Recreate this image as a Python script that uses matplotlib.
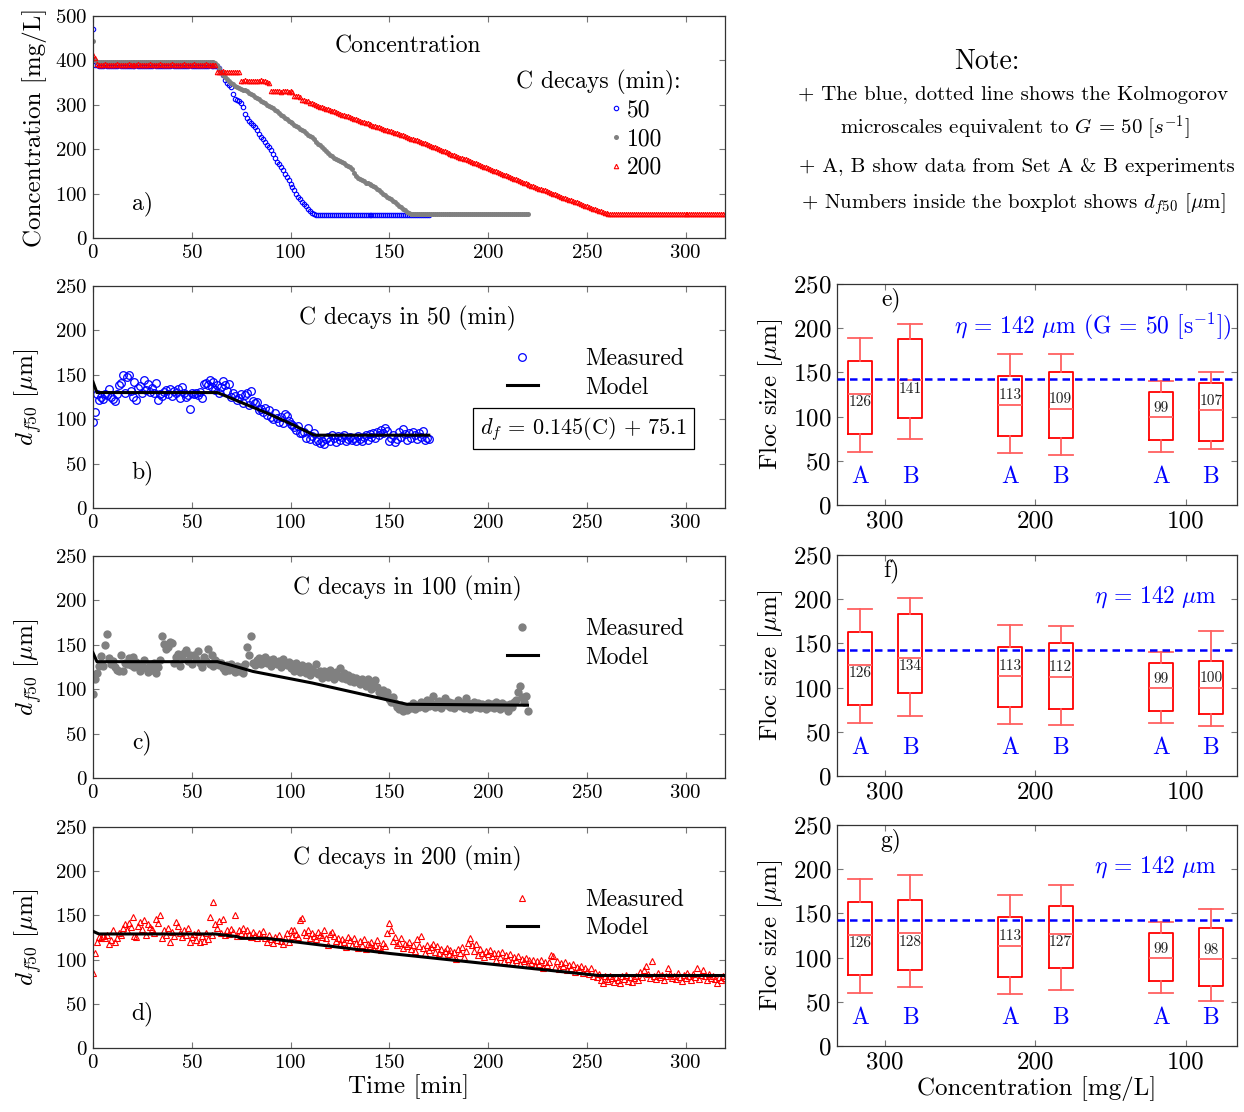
import numpy as np
import matplotlib.pyplot as plt

plt.rcParams['font.family'] = 'serif'
plt.rcParams['font.serif'] = ['cmr10']
plt.rcParams['mathtext.fontset'] = 'cm'
plt.rcParams['axes.formatter.use_mathtext'] = True
plt.rcParams['axes.unicode_minus'] = False

# ---- concentration [mg/L], one reading per minute ----
conc_50 = [
    470, 390, 389, 388, 388, 388, 389, 388, 388, 387,
    388, 388, 388, 389, 388, 388, 388, 387, 388, 388,
    388, 388, 389, 388, 388, 388, 387, 388, 388, 388,
    388, 389, 388, 388, 388, 387, 388, 388, 388, 388,
    389, 388, 388, 388, 388, 387, 388, 388, 388, 389,
    388, 388, 388, 388, 387, 388, 388, 388, 388, 389,
    388, 388, 388, 388, 384, 375, 367, 355, 350, 345,
    340, 325, 312, 310, 308, 305, 295, 280, 270, 263,
    258, 255, 250, 243, 235, 228, 222, 216, 210, 205,
    198, 190, 180, 172, 167, 160, 153, 145, 137, 130,
    122, 115, 108, 100, 93, 88, 82, 76, 72, 66,
    61, 56, 53, 52, 52, 52, 52, 52, 52, 52,
    52, 52, 52, 52, 52, 52, 52, 52, 52, 52,
    52, 52, 52, 52, 52, 52, 52, 52, 52, 52,
    52, 52, 52, 52, 52, 52, 52, 52, 52, 52,
    52, 52, 52, 52, 52, 52, 52, 52, 52, 52,
    52, 52, 52, 52, 52, 52, 52, 52, 52, 52,
    52,
]
conc_100 = [
    443, 400, 397, 396, 396, 396, 397, 396, 396, 396,
    396, 396, 397, 396, 396, 396, 396, 397, 396, 396,
    396, 397, 396, 396, 396, 396, 396, 397, 396, 396,
    396, 396, 397, 396, 396, 396, 396, 396, 397, 396,
    396, 396, 396, 397, 396, 396, 396, 396, 396, 397,
    396, 396, 396, 397, 396, 396, 396, 396, 397, 396,
    396, 396, 395, 390, 383, 375, 368, 363, 358, 353,
    349, 346, 343, 340, 338, 336, 334, 333, 330, 327,
    324, 322, 318, 315, 312, 309, 306, 303, 300, 297,
    295, 292, 289, 285, 282, 278, 275, 271, 268, 264,
    261, 258, 255, 252, 249, 246, 243, 240, 237, 233,
    230, 227, 222, 217, 212, 209, 205, 200, 196, 191,
    187, 184, 181, 178, 176, 173, 171, 168, 165, 162,
    160, 155, 147, 140, 136, 134, 131, 128, 125, 123,
    121, 120, 118, 115, 111, 107, 104, 100, 97, 93,
    90, 87, 84, 80, 77, 73, 70, 66, 63, 59,
    56, 53, 53, 53, 53, 53, 53, 53, 53, 53,
    53, 53, 53, 53, 53, 53, 53, 53, 53, 53,
    53, 53, 53, 53, 53, 53, 53, 53, 53, 53,
    53, 53, 53, 53, 53, 53, 53, 53, 53, 53,
    53, 53, 53, 53, 53, 53, 53, 53, 53, 53,
    53, 53, 53, 53, 53, 53, 53, 53, 53, 53,
    53,
]
conc_200 = [
    413, 405, 391, 390, 390, 390, 391, 390, 390, 390,
    390, 390, 391, 390, 390, 390, 390, 390, 391, 390,
    390, 390, 390, 391, 390, 390, 390, 390, 390, 391,
    390, 390, 390, 390, 391, 390, 390, 390, 390, 390,
    391, 390, 390, 390, 390, 390, 391, 390, 390, 390,
    390, 391, 390, 390, 390, 390, 390, 391, 390, 390,
    390, 390, 390, 375, 375, 375, 376, 375, 375, 375,
    375, 374, 375, 375, 375, 354, 354, 355, 354, 354,
    354, 353, 354, 354, 354, 355, 354, 353, 352, 350,
    330, 330, 331, 330, 330, 329, 330, 330, 330, 329,
    330, 328, 320, 320, 319, 318, 310, 310, 309, 308,
    305, 303, 301, 299, 298, 296, 294, 293, 291, 290,
    288, 286, 285, 283, 282, 280, 278, 277, 275, 274,
    272, 270, 269, 267, 266, 264, 262, 261, 259, 258,
    256, 255, 253, 252, 250, 249, 247, 246, 244, 243,
    242, 240, 239, 237, 236, 234, 232, 231, 229, 228,
    226, 224, 223, 221, 220, 218, 216, 215, 213, 212,
    210, 208, 206, 204, 202, 200, 198, 196, 195, 193,
    191, 189, 188, 186, 185, 183, 181, 180, 178, 177,
    175, 173, 171, 170, 168, 166, 164, 163, 161, 160,
    158, 156, 154, 152, 151, 149, 147, 145, 143, 142,
    140, 138, 136, 134, 132, 130, 128, 127, 125, 124,
    122, 120, 118, 117, 115, 113, 111, 110, 108, 107,
    105, 103, 102, 100, 99, 97, 95, 93, 91, 89,
    87, 86, 85, 83, 82, 80, 78, 76, 74, 73,
    71, 69, 68, 66, 65, 63, 61, 60, 58, 57,
    56, 55, 55, 55, 55, 55, 55, 55, 55, 55,
    55, 55, 55, 55, 55, 55, 55, 55, 55, 55,
    55, 55, 55, 55, 55, 55, 55, 55, 55, 55,
    55, 55, 55, 55, 55, 55, 55, 55, 55, 55,
    55, 55, 55, 55, 55, 55, 55, 55, 55, 55,
    55, 55, 55, 55, 55, 55, 55, 55, 55, 55,
    55,
]

# ---- measured d_f50 [um], one reading per minute ----
df_50 = [
    97, 108, 128, 122, 125, 123, 128, 127, 134, 125,
    123, 121, 128, 138, 141, 150, 130, 148, 150, 132,
    125, 142, 122, 135, 137, 130, 144, 133, 140, 131,
    135, 129, 141, 122, 128, 126, 131, 133, 128, 134,
    126, 132, 130, 134, 124, 136, 129, 125, 127, 112,
    130, 128, 129, 127, 131, 124, 140, 141, 138, 144,
    136, 142, 133, 139, 130, 136, 143, 138, 132, 140,
    125, 130, 126, 122, 124, 128, 118, 127, 130, 116,
    132, 120, 118, 119, 110, 112, 108, 113, 105, 110,
    103, 100, 107, 101, 97, 103, 96, 106, 104, 98,
    95, 93, 91, 88, 92, 84, 85, 86, 79, 90,
    78, 81, 84, 75, 77, 73, 76, 72, 78, 80,
    76, 82, 79, 74, 81, 77, 80, 82, 75, 78,
    80, 77, 79, 76, 81, 78, 75, 80, 82, 77,
    83, 80, 85, 79, 86, 82, 88, 84, 90, 87,
    76, 79, 82, 74, 78, 86, 80, 89, 83, 77,
    84, 79, 86, 82, 78, 85, 80, 87, 77, 79,
    78,
]
df_100 = [
    95, 112, 118, 126, 137, 126, 150, 162, 135, 128,
    132, 125, 122, 120, 138, 121, 130, 128, 135, 127,
    136, 125, 131, 128, 120, 126, 133, 124, 119, 127,
    122, 130, 118, 125, 133, 160, 151, 145, 148, 153,
    152, 130, 136, 140, 126, 137, 141, 144, 132, 138,
    128, 139, 134, 143, 130, 125, 136, 132, 145, 128,
    138, 126, 133, 131, 127, 129, 124, 120, 127, 122,
    128, 123, 119, 126, 121, 125, 118, 128, 148, 138,
    160, 130, 127, 133, 135, 128, 131, 136, 129, 133,
    126, 134, 130, 128, 132, 125, 134, 129, 127, 131,
    124, 128, 121, 130, 125, 119, 127, 122, 118, 126,
    116, 123, 119, 128, 117, 121, 113, 120, 118, 114,
    122, 116, 112, 119, 115, 124, 113, 118, 111, 116,
    109, 114, 108, 113, 110, 106, 111, 108, 104, 112,
    106, 100, 107, 110, 103, 97, 94, 99, 92, 97,
    89, 86, 91, 84, 80, 78, 82, 76, 79, 77,
    81, 79, 84, 78, 82, 80, 86, 83, 79, 88,
    81, 85, 92, 80, 84, 87, 79, 83, 90, 82,
    86, 80, 84, 79, 83, 88, 81, 85, 79, 90,
    84, 78, 82, 86, 80, 84, 79, 83, 81, 78,
    85, 80, 83, 79, 86, 81, 78, 84, 80, 82,
    76, 83, 80, 86, 88, 97, 104, 91, 86, 92,
    76,
]
df_200 = [
    85, 108, 120, 126, 124, 127, 125, 128, 118, 122,
    133, 120, 125, 130, 128, 136, 140, 133, 141, 137,
    148, 127, 126, 138, 143, 135, 145, 128, 140, 137,
    135, 130, 146, 141, 150, 125, 133, 128, 136, 120,
    131, 127, 143, 138, 130, 126, 133, 128, 136, 120,
    126, 129, 122, 131, 120, 127, 121, 130, 123, 148,
    128, 165, 140, 136, 144, 130, 146, 128, 133, 129,
    135, 131, 150, 127, 134, 130, 136, 128, 133, 129,
    126, 131, 128, 124, 130, 127, 132, 125, 120, 128,
    123, 119, 126, 122, 128, 121, 118, 125, 130, 120,
    133, 127, 134, 129, 126, 145, 147, 131, 128, 133,
    125, 130, 127, 123, 131, 128, 126, 133, 124, 116,
    129, 131, 127, 121, 125, 118, 123, 120, 114, 126,
    122, 117, 124, 119, 113, 121, 116, 123, 112, 118,
    115, 120, 113, 117, 122, 114, 111, 119, 115, 130,
    141, 133, 121, 126, 116, 119, 124, 113, 118, 115,
    120, 112, 117, 110, 123, 115, 127, 113, 107, 116,
    111, 114, 118, 109, 115, 108, 112, 105, 110, 113,
    106, 111, 104, 109, 101, 112, 107, 114, 103, 110,
    119, 124, 116, 110, 118, 105, 112, 107, 103, 110,
    106, 111, 104, 108, 100, 107, 103, 109, 98, 105,
    101, 106, 97, 103, 100, 104, 95, 101, 98, 102,
    94, 99, 96, 100, 93, 98, 95, 99, 91, 97,
    94, 97, 105, 104, 92, 98, 89, 96, 93, 97,
    88, 94, 90, 95, 86, 92, 89, 93, 85, 90,
    87, 84, 90, 82, 86, 80, 84, 77, 74, 81,
    78, 76, 82, 79, 75, 80, 77, 74, 81, 78,
    83, 76, 80, 75, 79, 82, 77, 86, 80, 88,
    93, 84, 79, 98, 82, 78, 85, 80, 83, 77,
    81, 91, 84, 79, 82, 78, 85, 80, 76, 83,
    79, 85, 81, 77, 84, 80, 90, 78, 83, 88,
    81, 77, 84, 79, 82, 78, 74, 80, 77, 82,
    79,
]

# ---- model lines (vertices) ----
model_50_t = [0, 2, 63, 76, 88, 101, 112, 170]
model_50_v = [142, 130, 130, 118, 107, 94, 82, 82]
model_100_t = [0, 2, 63, 70, 81, 111, 159, 220]
model_100_v = [141, 131, 131, 127, 120, 107, 83, 82]
model_200_t = [0, 3, 62, 73, 75, 88, 150, 256, 320]
model_200_v = [132, 129, 129, 126, 124, 124, 107, 82, 82]

# ---- boxplots: [whislo, q1, med, q3, whishi] for 300A,300B,200A,200B,100A,100B ----
box_e = [[60, 80, 126, 163, 189], [75, 98, 141, 188, 205],
         [59, 78, 113, 146, 171], [56, 76, 109, 151, 171],
         [60, 73, 99, 128, 140], [63, 72, 107, 138, 150]]
box_f = [[60, 80, 126, 163, 189], [68, 94, 134, 183, 201],
         [59, 78, 113, 146, 171], [58, 76, 112, 151, 170],
         [60, 73, 99, 128, 140], [56, 70, 100, 130, 164]]
box_g = [[60, 80, 126, 163, 189], [67, 86, 128, 165, 193],
         [59, 78, 113, 146, 171], [63, 88, 127, 158, 182],
         [60, 73, 99, 128, 140], [51, 68, 98, 134, 155]]
conc_groups = ['300', '200', '100']
sets = ['A', 'B']
eta = 142

GRAY = '#808080'
W, H = 1244, 1112


def axes_px(left, top, right, bottom):
    return fig.add_axes([left / W, 1 - bottom / H, (right - left) / W, (bottom - top) / H])


def style(ax, size):
    ax.tick_params(direction='in', length=4, width=0.8, color='#777777',
                   top=True, right=True, labelsize=size, pad=4)
    for s in ax.spines.values():
        s.set_color('#333333')
        s.set_linewidth(0.9)


fig = plt.figure(figsize=(W / 100, H / 100), dpi=100)

# ---------------- a) concentration ----------------
ax = axes_px(93, 16, 725, 238)
style(ax, 15)
h1, = ax.plot(np.arange(len(conc_50)), conc_50, 'o', mfc='none', mec='blue', ms=3.2, mew=0.8)
h2, = ax.plot(np.arange(len(conc_100)), conc_100, 'o', color=GRAY, ms=3.6, mew=0)
h3, = ax.plot(np.arange(len(conc_200)), conc_200, '^', mfc='none', mec='red', ms=3.2, mew=0.8)
ax.set_xlim(0, 320)
ax.set_ylim(0, 500)
ax.set_xticks([0, 50, 100, 150, 200, 250, 300])
ax.set_ylabel('Concentration [mg/L]', fontsize=18, labelpad=6)
ax.text(0.498, 0.862, 'Concentration', transform=ax.transAxes, ha='center', va='center', fontsize=17)
ax.text(0.8, 0.70, 'C decays (min):', transform=ax.transAxes, ha='center', va='center', fontsize=17)
ax.legend([h1, h2, h3], ['50', '100', '200'], loc='upper left', bbox_to_anchor=(0.82, 0.625),
          frameon=False, fontsize=17, handlelength=0.4, handletextpad=0.25, labelspacing=0.28,
          borderpad=0, borderaxespad=0)
ax.text(0.078, 0.153, 'a)', transform=ax.transAxes, ha='center', va='center', fontsize=17)

# ---------------- b) c) d) floc size over time ----------------
rows = [
    (286, 508, df_50, model_50_t, model_50_v, dict(marker='o', mfc='none', mec='blue', ms=5.5, mew=0.9, color='blue'), '50', 'b)'),
    (556, 778, df_100, model_100_t, model_100_v, dict(marker='o', color=GRAY, ms=6, mew=0), '100', 'c)'),
    (827, 1048, df_200, model_200_t, model_200_v, dict(marker='^', mfc='none', mec='red', ms=5, mew=0.8, color='red'), '200', 'd)'),
]
for top, bottom, meas, mt, mv, mstyle, name, tag in rows:
    ax = axes_px(93, top, 725, bottom)
    style(ax, 15)
    hm, = ax.plot(np.arange(len(meas)), meas, ls='none', zorder=2, **mstyle)
    hl, = ax.plot(mt, mv, color='black', lw=2.2, zorder=3)
    ax.set_xlim(0, 320)
    ax.set_ylim(0, 250)
    ax.set_xticks([0, 50, 100, 150, 200, 250, 300])
    ax.set_yticks([0, 50, 100, 150, 200, 250])
    ax.set_ylabel(r'$d_{f50}$ [$\mu$m]', fontsize=18, labelpad=8)
    ax.text(0.498, 0.856, 'C decays in %s (min)' % name, transform=ax.transAxes,
            ha='center', va='center', fontsize=17)
    ax.legend([hm, hl], ['Measured', 'Model'], loc='upper left', bbox_to_anchor=(0.655, 0.72),
              frameon=False, fontsize=17, handlelength=1.3, handletextpad=2.0, labelspacing=0.26,
              borderpad=0, borderaxespad=0)
    ax.text(0.078, 0.157, tag, transform=ax.transAxes, ha='center', va='center', fontsize=17)
    if tag == 'b)':
        ax.text(0.776, 0.357, r'$d_f\, =\, 0.145(\mathrm{C})\, +\, 75.1$', transform=ax.transAxes,
                ha='center', va='center', fontsize=16,
                bbox=dict(boxstyle='square,pad=0.3', fc='white', ec='black', lw=0.9))
    if tag == 'd)':
        ax.set_xlabel('Time [min]', fontsize=18, labelpad=2)

# ---------------- e) f) g) boxplots ----------------
positions = [g + off for g in (1, 2, 3) for off in (-1 / 6, 1 / 6)]
panels = [
    (284, 505, box_e, 'e)', r'$\eta\,=\,142\ \mu$m (G = 50 [s$^{-1}$])', 0.985),
    (555, 776, box_f, 'f)', r'$\eta\,=\,142\ \mu$m', 0.95),
    (825, 1046, box_g, 'g)', r'$\eta\,=\,142\ \mu$m', 0.95),
]
for top, bottom, boxes, tag, eta_txt, ex in panels:
    ax = axes_px(837, top, 1237, bottom)
    style(ax, 18)
    stats = [dict(whislo=b[0], q1=b[1], med=b[2], q3=b[3], whishi=b[4], fliers=[]) for b in boxes]
    ax.bxp(stats, positions=positions, widths=0.16, capwidths=0.16, showfliers=False,
           manage_ticks=False,
           boxprops=dict(color='red', lw=1.3),
           whiskerprops=dict(color='#ff6060', lw=1.3),
           capprops=dict(color='#ff6060', lw=1.3),
           medianprops=dict(color='#ff6060', lw=1.3))
    for p, b, s in zip(positions, boxes, sets * 3):
        med = b[2]
        ly = med - 10 if med >= 120 else med + 11
        ax.text(p, ly, str(med), ha='center', va='center', fontsize=11, color='#222222')
        ax.text(p, 32, s, ha='center', va='center', fontsize=17, color='blue')
    ax.axhline(eta, color='blue', ls=(0, (3, 2)), lw=1.8, zorder=4)
    ax.text(ex, 0.81, eta_txt, transform=ax.transAxes, ha='right', va='center',
            fontsize=17, color='blue')
    ax.text(0.135, 0.93, tag, transform=ax.transAxes, ha='center', va='center', fontsize=17)
    ax.set_xlim(0.68, 3.34)
    ax.set_ylim(0, 250)
    ax.set_xticks([1, 2, 3])
    ax.set_xticklabels(conc_groups)
    ax.set_yticks([0, 50, 100, 150, 200, 250])
    ax.set_ylabel(r'Floc size [$\mu$m]', fontsize=18, labelpad=6)
    if tag == 'g)':
        ax.set_xlabel('Concentration [mg/L]', fontsize=18, labelpad=2)

# ---------------- note ----------------
fig.text(987 / W, 1 - 62 / H, 'Note:', ha='center', va='center', fontsize=20)
fig.text(1013 / W, 1 - 95 / H, '+ The blue, dotted line shows the Kolmogorov',
         ha='center', va='center', fontsize=15)
fig.text(1015 / W, 1 - 128 / H, r'microscales equivalent to $G\,=\,50\ [s^{-1}]$',
         ha='center', va='center', fontsize=15)
fig.text(1017 / W, 1 - 167 / H, '+ A, B show data from Set A & B experiments',
         ha='center', va='center', fontsize=15)
fig.text(1013 / W, 1 - 204 / H, r'+ Numbers inside the boxplot shows $d_{f50}$ [$\mu$m]',
         ha='center', va='center', fontsize=15)

fig.savefig('out.png', dpi=100)
